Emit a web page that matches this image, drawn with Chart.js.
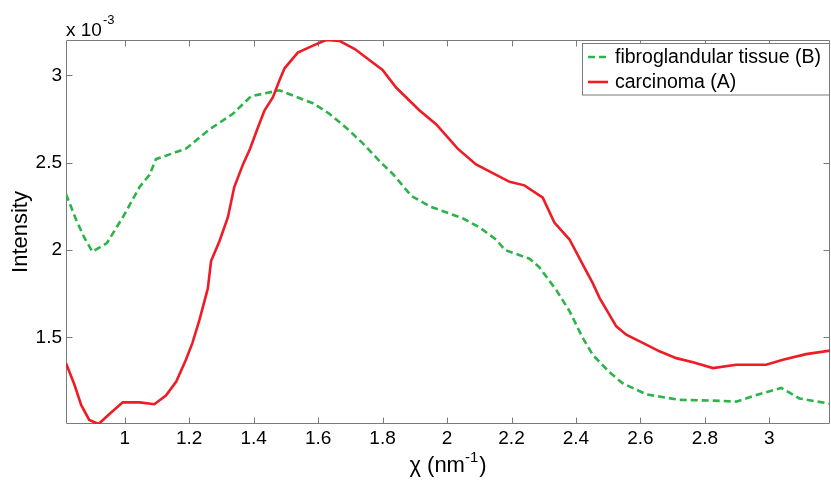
<!DOCTYPE html>
<html>
<head>
<meta charset="utf-8">
<script src="https://cdn.jsdelivr.net/npm/chart.js@4.4.1/dist/chart.umd.min.js"></script>
<style>
  html, body { margin: 0; padding: 0; background: #fff; }
  canvas { display: block; }
</style>
</head>
<body>
<canvas id="c" width="831" height="481"></canvas>
<script>
// ---- data (Intensity in units of 10^-3) ----
const fibroX = [0.818, 0.85, 0.875, 0.90, 0.945, 0.995, 1.046, 1.077, 1.097, 1.19, 1.263, 1.336, 1.392, 1.48, 1.584, 1.635, 1.687, 1.739, 1.79, 1.832, 1.889, 1.946, 2.05, 2.10, 2.152, 2.18, 2.256, 2.287, 2.339, 2.38, 2.42, 2.452, 2.504, 2.545, 2.618, 2.72, 2.825, 2.897, 2.96, 3.037, 3.093, 3.188];
const fibroY = [2.32, 2.17, 2.07, 1.99, 2.04, 2.19, 2.36, 2.43, 2.52, 2.58, 2.69, 2.78, 2.88, 2.914, 2.84, 2.78, 2.70, 2.61, 2.51, 2.435, 2.31, 2.25, 2.18, 2.13, 2.06, 2.00, 1.95, 1.90, 1.77, 1.65, 1.50, 1.40, 1.30, 1.237, 1.174, 1.142, 1.138, 1.132, 1.17, 1.21, 1.15, 1.12];

const carcX = [0.818, 0.844, 0.865, 0.89, 0.919, 0.952, 0.994, 1.046, 1.092, 1.128, 1.16, 1.19, 1.21, 1.232, 1.258, 1.268, 1.294, 1.32, 1.34, 1.367, 1.389, 1.413, 1.434, 1.46, 1.48, 1.496, 1.537, 1.584, 1.625, 1.666, 1.714, 1.76, 1.80, 1.842, 1.914, 1.966, 2.033, 2.09, 2.142, 2.194, 2.24, 2.297, 2.333, 2.38, 2.42, 2.452, 2.473, 2.525, 2.556, 2.618, 2.659, 2.711, 2.763, 2.825, 2.897, 2.99, 3.042, 3.114, 3.188];
const carcY = [1.352, 1.23, 1.113, 1.027, 1.004, 1.06, 1.128, 1.128, 1.117, 1.167, 1.247, 1.372, 1.467, 1.60, 1.78, 1.937, 2.05, 2.186, 2.36, 2.49, 2.58, 2.70, 2.80, 2.875, 2.97, 3.04, 3.13, 3.17, 3.202, 3.197, 3.15, 3.086, 3.03, 2.93, 2.80, 2.72, 2.58, 2.49, 2.44, 2.39, 2.37, 2.30, 2.157, 2.06, 1.92, 1.81, 1.726, 1.563, 1.515, 1.458, 1.42, 1.381, 1.358, 1.324, 1.343, 1.343, 1.372, 1.404, 1.424];

const seriesNames = ['fibroglandular tissue (B)', 'carcinoma (A)'];
const xTicks = [1, 1.2, 1.4, 1.6, 1.8, 2, 2.2, 2.4, 2.6, 2.8, 3];
const yTicks = [1.5, 2, 2.5, 3];
const xRange = [0.818, 3.188];
const yRange = [1.004, 3.202];
const yExponent = '-3';
const yTitle = 'Intensity';
const xTitleMain = 'χ (nm';
const xTitleSup = '-1';
const xTitleEnd = ')';

const FONT = '"Liberation Sans", Arial, Helvetica, sans-serif';
const GREEN = '#2DB34A';
const RED = '#EE1C25';
const AXIS = '#7a7a7a';

function pairs(xs, ys) { return xs.map((x, i) => ({ x: x, y: ys[i] })); }

const framePlugin = {
  id: 'frame',
  beforeDatasetsDraw(chart) {
    const { ctx, chartArea: a, scales } = chart;
    const L = a.left + 0.5, R = a.right - 0.5, T = a.top + 0.5, B = a.bottom - 0.5;
    ctx.save();
    ctx.strokeStyle = AXIS;
    ctx.lineWidth = 1;
    ctx.beginPath();
    ctx.rect(L, T, R - L, B - T);
    const tl = 6;
    xTicks.forEach(v => {
      const px = Math.round(scales.x.getPixelForValue(v)) + 0.5;
      ctx.moveTo(px, B); ctx.lineTo(px, B - tl);
      ctx.moveTo(px, T); ctx.lineTo(px, T + tl);
    });
    yTicks.forEach(v => {
      const py = Math.round(scales.y.getPixelForValue(v)) + 0.5;
      ctx.moveTo(L, py); ctx.lineTo(L + tl, py);
      ctx.moveTo(R, py); ctx.lineTo(R - tl, py);
    });
    ctx.stroke();
    ctx.restore();
  },
  afterDraw(chart) {
    const { ctx, chartArea: a } = chart;
    ctx.save();
    ctx.fillStyle = '#000';
    ctx.textBaseline = 'alphabetic';
    ctx.textAlign = 'left';
    // exponent label
    ctx.font = '19px ' + FONT;
    const base = 'x 10';
    ctx.fillText(base, a.left, 36);
    const bw = ctx.measureText(base).width;
    ctx.font = '13px ' + FONT;
    ctx.fillText(yExponent, a.left + bw + 1, 24);
    // x title with superscript
    const big = '22px ' + FONT, small = '15px ' + FONT;
    ctx.font = big;
    const w1 = ctx.measureText(xTitleMain).width;
    const w3 = ctx.measureText(xTitleEnd).width;
    ctx.font = small;
    const w2 = ctx.measureText(xTitleSup).width;
    const total = w1 + w2 + w3 + 1;
    let x0 = (a.left + a.right) / 2 - total / 2;
    const by = 472;
    ctx.font = big; ctx.fillText(xTitleMain, x0, by);
    ctx.font = small; ctx.fillText(xTitleSup, x0 + w1, by - 10);
    ctx.font = big; ctx.fillText(xTitleEnd, x0 + w1 + w2 + 1, by);
    // legend
    const lx = 582.5, ly = 43.5, lw = 247, lh = 51.5;
    ctx.fillStyle = '#fff';
    ctx.fillRect(lx, ly, lw, lh);
    ctx.strokeStyle = AXIS;
    ctx.lineWidth = 1;
    ctx.strokeRect(lx, ly, lw, lh);
    const ds = chart.data.datasets;
    const order = [0, 1];
    const rows = [57, 82];
    order.forEach((di, k) => {
      const d = ds[di];
      ctx.save();
      ctx.strokeStyle = d.borderColor;
      ctx.lineWidth = d.borderWidth;
      ctx.setLineDash(d.borderDash || []);
      ctx.beginPath();
      ctx.moveTo(588, rows[k]);
      ctx.lineTo(608, rows[k]);
      ctx.stroke();
      ctx.restore();
      ctx.fillStyle = '#000';
      ctx.font = '19.5px ' + FONT;
      ctx.textBaseline = 'middle';
      ctx.fillText(d.label, 615, rows[k] + 1);
    });
    ctx.restore();
  }
};

new Chart(document.getElementById('c'), {
  type: 'scatter',
  data: {
    datasets: [
      {
        label: seriesNames[0],
        data: pairs(fibroX, fibroY),
        showLine: true,
        borderColor: GREEN,
        backgroundColor: GREEN,
        borderWidth: 2.6,
        borderDash: [7, 4],
        pointRadius: 0,
        tension: 0,
        order: 1
      },
      {
        label: seriesNames[1],
        data: pairs(carcX, carcY),
        showLine: true,
        borderColor: RED,
        backgroundColor: RED,
        borderWidth: 2.6,
        pointRadius: 0,
        tension: 0,
        order: 0
      }
    ]
  },
  options: {
    responsive: false,
    animation: false,
    devicePixelRatio: 1,
    layout: { padding: { top: 40, right: 1, left: 0, bottom: 0 } },
    plugins: {
      legend: { display: false },
      tooltip: { enabled: false }
    },
    scales: {
      x: {
        type: 'linear',
        min: xRange[0],
        max: xRange[1],
        grid: { display: false, drawTicks: false },
        border: { display: false },
        afterBuildTicks: s => { s.ticks = xTicks.map(v => ({ value: v })); },
        afterFit: s => { s.height = 57; },
        ticks: {
          color: '#000',
          font: { family: FONT, size: 19 },
          padding: 3,
          maxRotation: 0,
          autoSkip: false,
          callback: v => String(v)
        }
      },
      y: {
        type: 'linear',
        min: yRange[0],
        max: yRange[1],
        grid: { display: false, drawTicks: false },
        border: { display: false },
        afterBuildTicks: s => { s.ticks = yTicks.map(v => ({ value: v })); },
        afterFit: s => { s.width = 66; },
        ticks: {
          color: '#000',
          font: { family: FONT, size: 19 },
          padding: 4,
          autoSkip: false,
          callback: v => String(v)
        },
        title: {
          display: true,
          text: yTitle,
          color: '#000',
          font: { family: FONT, size: 22 },
          padding: { top: 8, bottom: 0 }
        }
      }
    }
  },
  plugins: [framePlugin]
});
</script>
</body>
</html>
